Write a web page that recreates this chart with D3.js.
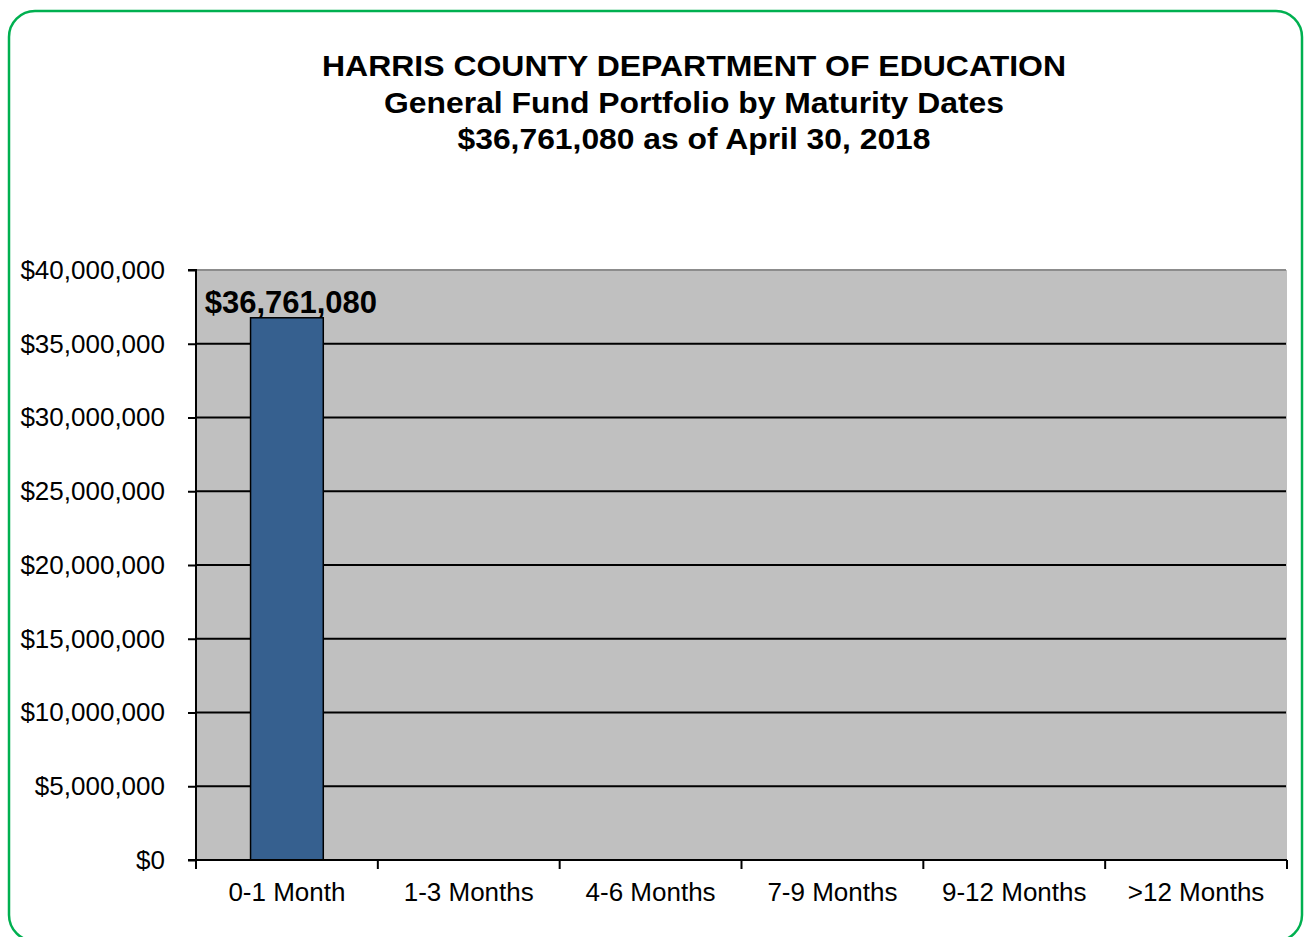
<!DOCTYPE html>
<html>
<head>
<meta charset="utf-8">
<script src="https://cdn.jsdelivr.net/npm/d3@7"></script>
<style>
  html, body { margin: 0; padding: 0; background: #fff; }
  svg { display: block; font-family: "Liberation Sans", Arial, sans-serif; }
</style>
</head>
<body>
<div id="chart"></div>
<script>
const titleLines = [
  "HARRIS COUNTY DEPARTMENT OF EDUCATION",
  "General Fund Portfolio by Maturity Dates",
  "$36,761,080 as of April 30, 2018"
];
const categories = ["0-1 Month", "1-3 Months", "4-6 Months", "7-9 Months", "9-12 Months", ">12 Months"];
const values = [36761080, 0, 0, 0, 0, 0];
const yTicks = [0, 5000000, 10000000, 15000000, 20000000, 25000000, 30000000, 35000000, 40000000];

const width = 1304, height = 937;
const plot = { left: 196, right: 1287, top: 270, bottom: 860 };

const svg = d3.select("#chart").append("svg")
  .attr("width", width)
  .attr("height", height);

// outer rounded frame
svg.append("rect")
  .attr("x", 9).attr("y", 11)
  .attr("width", 1293).attr("height", 930)
  .attr("rx", 26).attr("ry", 26)
  .attr("fill", "none")
  .attr("stroke", "#00b050")
  .attr("stroke-width", 2.5);

// title
const titleWidths = [744, 620, 473];
svg.append("g").selectAll("text")
  .data(titleLines)
  .enter().append("text")
  .attr("x", 694)
  .attr("y", (d, i) => 76 + i * 36.5)
  .attr("text-anchor", "middle")
  .attr("font-size", 30)
  .attr("font-weight", "bold")
  .attr("textLength", (d, i) => titleWidths[i])
  .attr("lengthAdjust", "spacingAndGlyphs")
  .text(d => d);

const x = d3.scaleBand()
  .domain(categories)
  .range([plot.left, plot.right])
  .paddingInner(0.6)
  .paddingOuter(0.3);

const xEdges = d3.scaleLinear()
  .domain([0, categories.length])
  .range([plot.left, plot.right]);

const y = d3.scaleLinear()
  .domain([0, 40000000])
  .range([plot.bottom, plot.top]);

// plot area
svg.append("rect")
  .attr("x", plot.left).attr("y", plot.top)
  .attr("width", plot.right - plot.left)
  .attr("height", plot.bottom - plot.top)
  .attr("fill", "#c0c0c0");

// gridlines
svg.append("g").selectAll("line")
  .data(yTicks.filter(d => d > 0))
  .enter().append("line")
  .attr("x1", plot.left).attr("x2", plot.right - 1)
  .attr("y1", d => y(d)).attr("y2", d => y(d))
  .attr("stroke", d => d === 40000000 ? "#8c8c8c" : "#000")
  .attr("stroke-width", 2);

// bars
svg.append("g").selectAll("rect")
  .data(values)
  .enter().append("rect")
  .attr("x", (d, i) => x(categories[i]))
  .attr("y", d => y(d))
  .attr("width", x.bandwidth())
  .attr("height", d => y(0) - y(d))
  .attr("fill", "#36608f")
  .attr("stroke", "#000")
  .attr("stroke-width", 1.5);

// data label
svg.append("g").selectAll("text")
  .data(values.map((v, i) => ({ v, i })).filter(d => d.v > 0))
  .enter().append("text")
  .attr("x", d => x(categories[d.i]) + x.bandwidth() / 2 + 4)
  .attr("y", d => y(d.v) - 5)
  .attr("text-anchor", "middle")
  .attr("font-size", 31)
  .attr("font-weight", "bold")
  .text(d => d3.format("$,")(d.v));

// y axis
const yAxis = d3.axisLeft(y)
  .tickValues(yTicks)
  .tickSize(8)
  .tickPadding(23)
  .tickFormat(d3.format("$,"));
const gy = svg.append("g")
  .attr("transform", `translate(${plot.left},0)`)
  .call(yAxis);
gy.select(".domain").attr("stroke", "#000").attr("stroke-width", 2).attr("d", `M-8,${plot.top}H0V${plot.bottom}`);
gy.selectAll(".tick line").attr("stroke", "#000").attr("stroke-width", 2);
gy.selectAll(".tick text").attr("font-size", 26).attr("fill", "#000").attr("font-family", "Liberation Sans, Arial, sans-serif");

// x axis
const gx = svg.append("g");
gx.append("line")
  .attr("x1", plot.left - 8).attr("x2", plot.right)
  .attr("y1", plot.bottom).attr("y2", plot.bottom)
  .attr("stroke", "#000").attr("stroke-width", 2);
gx.selectAll(".xt")
  .data(d3.range(categories.length + 1))
  .enter().append("line")
  .attr("class", "xt")
  .attr("x1", d => xEdges(d)).attr("x2", d => xEdges(d))
  .attr("y1", plot.bottom).attr("y2", plot.bottom + 9)
  .attr("stroke", "#000").attr("stroke-width", 2);
gx.selectAll(".xl")
  .data(categories)
  .enter().append("text")
  .attr("class", "xl")
  .attr("x", d => x(d) + x.bandwidth() / 2)
  .attr("y", 901)
  .attr("text-anchor", "middle")
  .attr("font-size", 26)
  .text(d => d);
</script>
</body>
</html>
